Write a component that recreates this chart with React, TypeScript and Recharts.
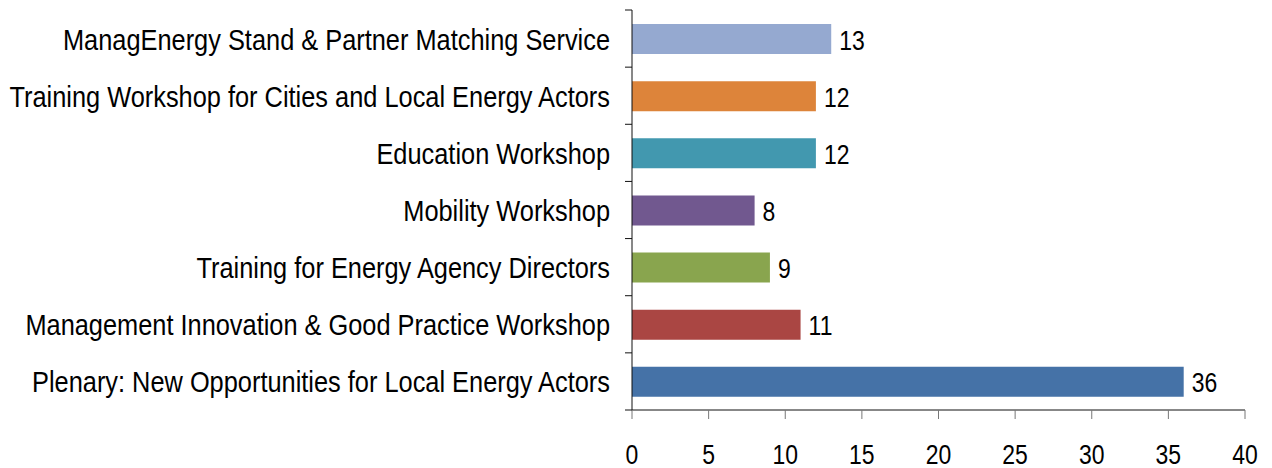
import React from 'react';
import { BarChart, Bar, XAxis, YAxis, Cell, LabelList } from 'recharts';

const sessions = [
    'ManagEnergy Stand & Partner Matching Service',
    'Training Workshop for Cities and Local Energy Actors',
    'Education Workshop',
    'Mobility Workshop',
    'Training for Energy Agency Directors',
    'Management Innovation & Good Practice Workshop',
    'Plenary: New Opportunities for Local Energy Actors',
];
const attendees = [13, 12, 12, 8, 9, 11, 36];
const barColors = ['#95A9D0', '#DD843A', '#4298AF', '#71588F', '#89A54E', '#AA4643', '#4572A7'];
const xTicks = [0, 5, 10, 15, 20, 25, 30, 35, 40];

// no narrow font installed, so a regular sans is squeezed horizontally
const FONT = '"Liberation Sans", Arial, sans-serif';
const SQUEEZE_CAT = 0.875;
const SQUEEZE_NUM = 0.82;

const data = sessions.map((name, i) => ({ name, value: attendees[i], color: barColors[i] }));

// Excel-like category ticks: the tick marks sit between the bands, not at their centres
const CategoryTick = (props: any) => {
    const { x, y, payload, index, visibleTicksCount } = props;
    const half = payload.offset || 0;
    const isLast = index === visibleTicksCount - 1;
    return (
        <g>
            <line x1={x + 15} x2={x + 22} y1={y - half} y2={y - half} stroke="#111" />
            {isLast && <line x1={x + 15} x2={x + 22} y1={y + half} y2={y + half} stroke="#111" />}
            <text
                transform={`translate(${x},${y + 11}) scale(${SQUEEZE_CAT},1)`}
                textAnchor="end"
                fontSize={29}
                fontFamily={FONT}
                fill="#000"
            >
                {payload.value}
            </text>
        </g>
    );
};

const ValueTick = (props: any) => {
    const { x, y, payload } = props;
    return (
        <text
            transform={`translate(${x},${y + 31}) scale(${SQUEEZE_NUM},1)`}
            textAnchor="middle"
            fontSize={28}
            fontFamily={FONT}
            fill="#000"
        >
            {payload.value}
        </text>
    );
};

const BarValue = (props: any) => {
    const { x, y, width, height, value } = props;
    return (
        <text
            transform={`translate(${x + width + 8},${y + height / 2 + 10.5}) scale(${SQUEEZE_NUM},1)`}
            textAnchor="start"
            fontSize={28}
            fontFamily={FONT}
            fill="#000"
        >
            {value}
        </text>
    );
};

export default function App() {
    return (
        <div style={{ position: 'absolute', left: 0, top: 0, width: 1272, height: 468, background: '#fff' }}>
            <BarChart
                width={1272}
                height={468}
                data={data}
                layout="vertical"
                margin={{ top: 10, right: 27, left: 0, bottom: 0 }}
                barCategoryGap={0}
            >
                <XAxis
                    type="number"
                    domain={[0, 40]}
                    ticks={xTicks}
                    height={58}
                    tickSize={9}
                    tickMargin={14}
                    stroke="#111"
                    tick={<ValueTick />}
                    tickLine={{ stroke: '#777' }}
                />
                <YAxis
                    type="category"
                    dataKey="name"
                    width={632}
                    tickLine={false}
                    stroke="#111"
                    tickMargin={16}
                    tick={<CategoryTick />}
                    interval={0}
                />
                <Bar dataKey="value" barSize={30} isAnimationActive={false}>
                    {data.map((d, i) => (
                        <Cell key={`bar-${i}`} fill={d.color} />
                    ))}
                    <LabelList dataKey="value" content={<BarValue />} />
                </Bar>
            </BarChart>
        </div>
    );
}
